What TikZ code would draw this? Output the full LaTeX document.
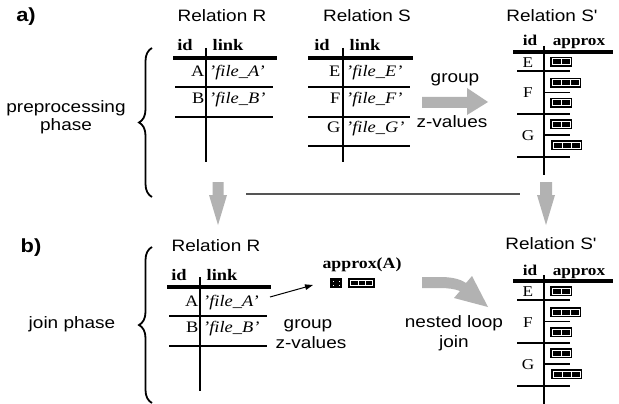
\documentclass[tikz,border=0pt]{standalone}
\usepackage{graphicx}
\usepackage{fontspec}
\setmainfont{Liberation Serif}
\newfontfamily\sansf{Liberation Sans}
\usetikzlibrary{decorations.pathreplacing,arrows.meta}
\definecolor{arrowgray}{RGB}{178,178,178}
\definecolor{linegray}{RGB}{85,85,85}
\newcommand\SX[1]{\scalebox{1.15}[1]{#1}}
\tikzset{
  lbl/.style={inner sep=0pt, anchor=base, font=\sansf\fontsize{16.5}{18}\selectfont},
  plbl/.style={inner sep=0pt, anchor=base, font=\sansf\bfseries\fontsize{19}{20}\selectfont},
  hd/.style={inner sep=0pt, anchor=base, font=\bfseries\fontsize{16}{18}\selectfont},
  hds/.style={inner sep=0pt, anchor=base, font=\bfseries\fontsize{15}{18}\selectfont},
  cellL/.style={inner sep=0pt, anchor=base east, font=\fontsize{16}{18}\selectfont},
  cellC/.style={inner sep=0pt, anchor=base, font=\fontsize{15}{18}\selectfont},
  cellR/.style={inner sep=0pt, anchor=base west, font=\itshape\fontsize{16}{18}\selectfont},
  thinl/.style={line width=1.8pt},
  thickl/.style={line width=3.5pt},
  bracel/.style={decorate, decoration={brace, amplitude=13pt}, line width=1.8pt},
}
\newcommand\zb[3]{%
  \fill[black] (#1,#2) rectangle ++({9*#3+4},10);
  \fill[white] ({#1+1.5},{#2+1.5}) rectangle ++({9*#3+1},7);
  \foreach \k in {1,...,#3}{\fill[black] ({#1+2.5+9*(\k-1)},{#2+2.5}) rectangle ++(8,5);}
}
\newcommand\RelR[1]{%
  \node[lbl] (#1t) at (222,22) {\SX{Relation R}};
  \node[hd] (#1id) at (185,51) {\SX{id}};
  \node[hd] (#1lk) at (228,51) {\SX{link}};
  \draw[thickl] (173,58) -- (277,58);
  \draw[thinl] (206,48) -- (206,162);
  \draw[thinl] (175,87) -- (273,87);
  \draw[thinl] (175,117) -- (273,117);
  \node[cellL] (#1a) at (204.5,77) {\SX{A}};
  \node[cellR] (#1fa) at (209,77) {\SX{'file\_A'}};
  \node[cellL] (#1b) at (204.5,103) {\SX{B}};
  \node[cellR] (#1fb) at (209,103) {\SX{'file\_B'}};
}
\newcommand\RelSp[2]{%
  \node[hds] (#1id) at (530,46) {\SX{id}};
  \node[hds] (#1ap) at (579,46) {\SX{approx}};
  \draw[thickl] (513,52) -- (613,52);
  \draw[thinl] (544,46) -- (544,#2);
  \draw[thinl] (517,71) -- (570,71);
  \draw[thinl] (544,92.5) -- (570,92.5);
  \draw[thinl] (517,114) -- (570,114);
  \draw[thinl] (544,135) -- (570,135);
  \draw[thinl] (517,157) -- (570,157);
  \node[cellC] (#1e) at (528,67) {\SX{E}};
  \node[cellC] (#1f) at (528,98) {\SX{F}};
  \node[cellC] (#1g) at (528,140) {\SX{G}};
  \zb{550}{57}{2}
  \zb{550}{78}{3}
  \zb{550}{98}{2}
  \zb{550}{119}{2}
  \zb{551}{140}{3}
}
\begin{document}
\begin{tikzpicture}[x=1pt,y=-1pt]
\fill[white] (0,0) rectangle (619,404);
\useasboundingbox (0,0) rectangle (619,404);

% ---------- a) ----------
\node[plbl] (la) at (26,22) {\SX{a)}};
\node[lbl] (pp1) at (66,113) {\SX{preprocessing}};
\node[lbl] (pp2) at (66,131) {\SX{phase}};
\draw[bracel] (152,197) -- (152,48);

\RelR{ra}

% Relation S
\node[lbl] (sT) at (367,22) {\SX{Relation S}};
\node[hd] (sid) at (322,51) {\SX{id}};
\node[hd] (slk) at (365,51) {\SX{link}};
\draw[thickl] (308,58) -- (413,58);
\draw[thinl] (343,48) -- (343,162);
\draw[thinl] (308,87) -- (410,87);
\draw[thinl] (308,117) -- (410,117);
\draw[thinl] (308,146) -- (410,146);
\node[cellL] (se) at (340.5,77) {\SX{E}};
\node[cellR] (sfe) at (346,77) {\SX{'file\_E'}};
\node[cellL] (sf) at (340.5,103) {\SX{F}};
\node[cellR] (sff) at (346,103) {\SX{'file\_F'}};
\node[cellL] (sg) at (340.5,132) {\SX{G}};
\node[cellR] (sfg) at (346,132) {\SX{'file\_G'}};

% group arrow
\fill[arrowgray] (422,97) -- (467,97) -- (467,88) -- (488,102) -- (467,115) -- (467,108) -- (422,108) -- cycle;
\node[lbl] (grp1) at (455,82) {\SX{group}};
\node[lbl] (zv1) at (452,128) {\SX{z-values}};

% Relation S'
\node[lbl] (spT) at (552,22) {\SX{Relation S'}};
\RelSp{spa}{175}

% ---------- transition ----------
\fill[arrowgray] (212.5,182) -- (223.5,182) -- (223.5,195) -- (227,195) -- (218,225) -- (209,195) -- (212.5,195) -- cycle;
\fill[arrowgray] (540,182) -- (552,182) -- (552,195) -- (555,195) -- (546,225) -- (537,195) -- (540,195) -- cycle;
\draw[line width=2pt, linegray] (246,193.5) -- (520,193.5);

% ---------- b) ----------
\node[plbl] (lb) at (31,252) {\SX{b)}};
\node[lbl] (jp) at (72,328) {\SX{join phase}};
\draw[bracel] (152,403) -- (152,247);

\begin{scope}[shift={(-6,229)}]
\RelR{rb}
\end{scope}

% approx(A)
\node[hd, font=\bfseries\fontsize{15.5}{18}\selectfont] (apA) at (362,268) {\SX{approx(A)}};
\fill[black] (330,278) rectangle (342,288);
\foreach \p/\q in {333/281,338.5/281,333/285,338.5/285}{\fill[white] (\p,\q) rectangle ++(1.3,1.3);}
\fill[black] (348,278) rectangle (375,288);
\draw[white, line width=0.6pt] (350.5,280.5) rectangle (372.5,285.5);
\draw[white, line width=0.6pt] (357.8,280.5) -- (357.8,285.5);
\draw[white, line width=0.6pt] (365.2,280.5) -- (365.2,285.5);
\coordinate (arrS) at (270,297);
\coordinate (arrE) at (313,285);
\draw[line width=1pt, -{Triangle[length=8pt,width=5.5pt]}] (arrS) -- (arrE);
\node[lbl] (grp2) at (308,328) {\SX{group}};
\node[lbl] (zv2) at (311,348) {\SX{z-values}};

% nested loop arrow
\fill[arrowgray] (422,277) -- (440,277) .. controls (452,277) and (460,279) .. (466,283) -- (472,276) -- (488,307) -- (454,298) -- (460,291) .. controls (455,289) and (448,288) .. (440,288) -- (422,288) -- cycle;
\node[lbl] (nl1) at (454,327) {\SX{nested loop}};
\node[lbl] (nl2) at (454,347) {\SX{join}};

\node[lbl] (spTb) at (551,249) {\SX{Relation S'}};
\begin{scope}[shift={(0,229)}]
\RelSp{spb}{176}
\end{scope}
\end{tikzpicture}
\end{document}
